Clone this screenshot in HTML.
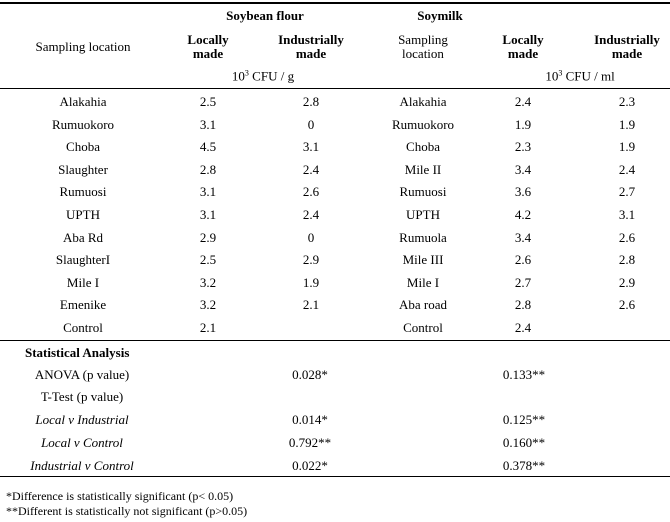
<!DOCTYPE html>
<html><head><meta charset="utf-8"><style>
body{margin:0;width:670px;height:522px;background:#fff;position:relative;font-family:"Liberation Serif",serif;font-size:13px;color:#000;overflow:hidden}
.t{position:absolute;transform:translate(-50%,-50%);white-space:nowrap;line-height:14px;text-align:center}
.l{position:absolute;transform:translateY(-50%);white-space:nowrap;line-height:14px}
.b{font-weight:bold}.i{font-style:italic}
.hr{position:absolute;left:0;width:670px;background:#000}
</style></head><body>
<div class="hr" style="top:2px;height:2px"></div>
<div class="hr" style="top:88px;height:1px"></div>
<div class="hr" style="top:340px;height:1px"></div>
<div class="hr" style="top:476px;height:1px"></div>

<div class="t b" style="left:265px;top:16px">Soybean flour</div>
<div class="t b" style="left:440px;top:16px">Soymilk</div>
<div class="t" style="left:83px;top:47px">Sampling location</div>
<div class="t b" style="left:208px;top:47px">Locally<br>made</div>
<div class="t b" style="left:311px;top:47px">Industrially<br>made</div>
<div class="t" style="left:423px;top:47px">Sampling<br>location</div>
<div class="t b" style="left:523px;top:47px">Locally<br>made</div>
<div class="t b" style="left:627px;top:47px">Industrially<br>made</div>
<div class="t" style="left:263px;top:75px">10<sup style="font-size:8px">3</sup> CFU / g</div>
<div class="t" style="left:580px;top:75px">10<sup style="font-size:8px">3</sup> CFU / ml</div>

<div id="rows"></div>
<script>
var d=[["Alakahia","2.5","2.8","Alakahia","2.4","2.3"],["Rumuokoro","3.1","0","Rumuokoro","1.9","1.9"],["Choba","4.5","3.1","Choba","2.3","1.9"],["Slaughter","2.8","2.4","Mile II","3.4","2.4"],["Rumuosi","3.1","2.6","Rumuosi","3.6","2.7"],["UPTH","3.1","2.4","UPTH","4.2","3.1"],["Aba Rd","2.9","0","Rumuola","3.4","2.6"],["SlaughterI","2.5","2.9","Mile III","2.6","2.8"],["Mile I","3.2","1.9","Mile I","2.7","2.9"],["Emenike","3.2","2.1","Aba road","2.8","2.6"],["Control","2.1","","Control","2.4",""]];
var xs=[83,208,311,423,523,627],h="";
d.forEach(function(r,i){var y=102+i*22.6;r.forEach(function(c,j){h+='<div class="t" style="left:'+xs[j]+'px;top:'+y+'px">'+c+'</div>';});});
document.getElementById('rows').innerHTML=h;
</script>

<div class="l b" style="left:25px;top:353px">Statistical Analysis</div>
<div class="t" style="left:82px;top:375px">ANOVA (p value)</div>
<div class="t" style="left:82px;top:397px">T-Test (p value)</div>
<div class="t i" style="left:82px;top:420px">Local v Industrial</div>
<div class="t i" style="left:82px;top:443px">Local v Control</div>
<div class="t i" style="left:82px;top:466px">Industrial v Control</div>
<div class="t" style="left:310px;top:375px">0.028*</div>
<div class="t" style="left:310px;top:420px">0.014*</div>
<div class="t" style="left:310px;top:443px">0.792**</div>
<div class="t" style="left:310px;top:466px">0.022*</div>
<div class="t" style="left:524px;top:375px">0.133**</div>
<div class="t" style="left:524px;top:420px">0.125**</div>
<div class="t" style="left:524px;top:443px">0.160**</div>
<div class="t" style="left:524px;top:466px">0.378**</div>

<div class="l" style="left:6px;top:496px;font-size:12px">*Difference is statistically significant (p&lt; 0.05)</div>
<div class="l" style="left:6px;top:511px;font-size:12px">**Different is statistically not significant (p&gt;0.05)</div>
</body></html>
